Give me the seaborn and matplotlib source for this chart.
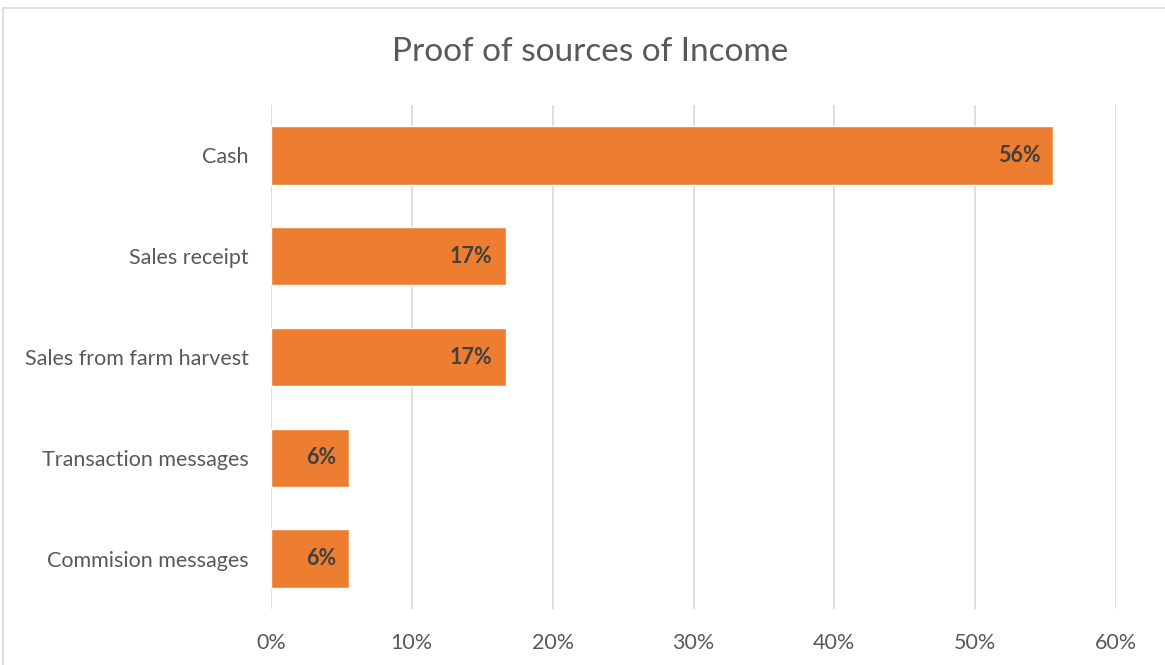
import matplotlib
matplotlib.use("Agg")
import matplotlib.pyplot as plt
from matplotlib.patches import Rectangle
import seaborn as sns
import pandas as pd

# Share of respondents per proof of income source
categories = ["Cash", "Sales receipt", "Sales from farm harvest",
              "Transaction messages", "Commision messages"]
shares = [10 / 18, 3 / 18, 3 / 18, 1 / 18, 1 / 18]
tick_values = [0, 0.1, 0.2, 0.3, 0.4, 0.5, 0.6]
tick_labels = ["0%", "10%", "20%", "30%", "40%", "50%", "60%"]
title = "Proof of sources of Income"

df = pd.DataFrame({"source": categories, "share": shares})

sns.set_theme(style="white")
plt.rcParams["font.family"] = ["Lato", "DejaVu Sans"]

fig = plt.figure(figsize=(11.65, 6.65), dpi=100)
ax = fig.add_axes([271 / 1165, 1 - 609 / 665, (1116 - 271) / 1165, (609 - 105) / 665])

sns.barplot(data=df, x="share", y="source", orient="h", color="#ED7D31",
            saturation=1, width=0.58, ax=ax, zorder=3)

ax.set_xlim(0, 0.6)
ax.set_xticks(tick_values)
ax.set_xticklabels(tick_labels)
ax.set_xlabel("")
ax.set_ylabel("")
ax.grid(axis="x", color="#D9D9D9", linewidth=1.2, zorder=0)
ax.grid(axis="y", visible=False)
for s in ax.spines.values():
    s.set_visible(False)
ax.tick_params(axis="x", length=0, pad=17, labelsize=15.5, labelcolor="#595959")
ax.tick_params(axis="y", length=0, pad=16, labelsize=15.5, labelcolor="#595959")

for p, v in zip(ax.patches, shares):
    ax.annotate(f"{v:.0%}", (p.get_width(), p.get_y() + p.get_height() / 2),
                xytext=(-13, 0), textcoords="offset pixels",
                ha="right", va="center", fontsize=15.5, fontweight="bold",
                color="#404040", zorder=4)

fig.text(590 / 1165, 1 - 52 / 665, title, ha="center", va="center",
         fontsize=24, color="#595959")

# Light chart-area frame
fig.patches.append(Rectangle((3 / 1165, -0.05), 1.2, 1 - 8 / 665 + 0.05,
                             transform=fig.transFigure, fill=False,
                             edgecolor="#D9D9D9", linewidth=1.2))

fig.savefig("out.png", dpi=100)
